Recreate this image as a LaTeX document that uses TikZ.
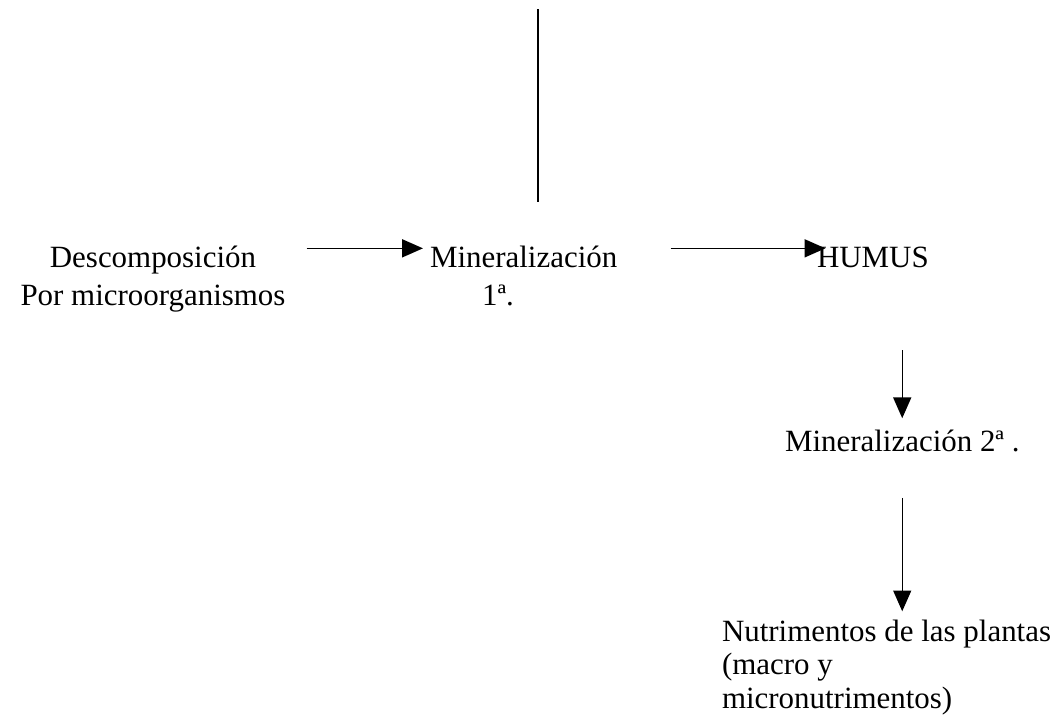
\documentclass[tikz,border=0pt]{standalone}
\usepackage{fontspec}
\setmainfont{Liberation Serif}
\usetikzlibrary{arrows.meta}
\begin{document}
\begin{tikzpicture}[x=0.025cm, y=-0.025cm]
			\tikzset{
				mytext/.style={inner sep=0pt, outer sep=0pt, font=\fontsize{22}{27}\selectfont},
				mytextp/.style={inner sep=0pt, outer sep=0pt, font=\fontsize{22}{23.5}\selectfont},
				myarrow/.style={-{Triangle[length=0.52cm, width=0.45cm]}, line width=1pt},
				myline/.style={line width=1.2pt}
			}

			\useasboundingbox (0,0) rectangle (1061,723);

			\node[mytext, align=center, anchor=base] (desc) at (153,305) {Descomposición\\Por microorganismos};
			\node[mytext, align=left, anchor=base west] (min1) at (430,305) {Mineralización\\\hspace*{37pt}1ª.};
			\node[mytext, anchor=base west] (humus) at (817,267) {HUMUS};
			\node[mytext, anchor=base west] (min2) at (785,451) {Mineralización 2ª .};
			\node[mytextp, align=left, anchor=base west] (nutri) at (722,708) {Nutrimentos de las plantas\\(macro y\\micronutrimentos)};

			\coordinate (top) at (538,9);
			\coordinate (bottom) at (538,202);
			\draw[myline] (top) -- (bottom);

			\draw[myarrow, shorten <=15pt, shorten >=5pt] ([yshift=-2pt]desc.north east) -- ([yshift=-2pt]desc.north east -| min1.west);
			\draw[myarrow, shorten <=38pt, shorten >=-6pt] ([yshift=-2pt]min1.north east) -- ([yshift=-2pt]min1.north east -| humus.west);
			\draw[myarrow, shorten <=59pt, shorten >=8pt] (min2.north |- humus.south) -- (min2.north);
			\draw[myarrow, shorten <=33pt, shorten >=6.5pt] (min2.south) -- (min2.south |- nutri.north);
		\end{tikzpicture}
\end{document}
